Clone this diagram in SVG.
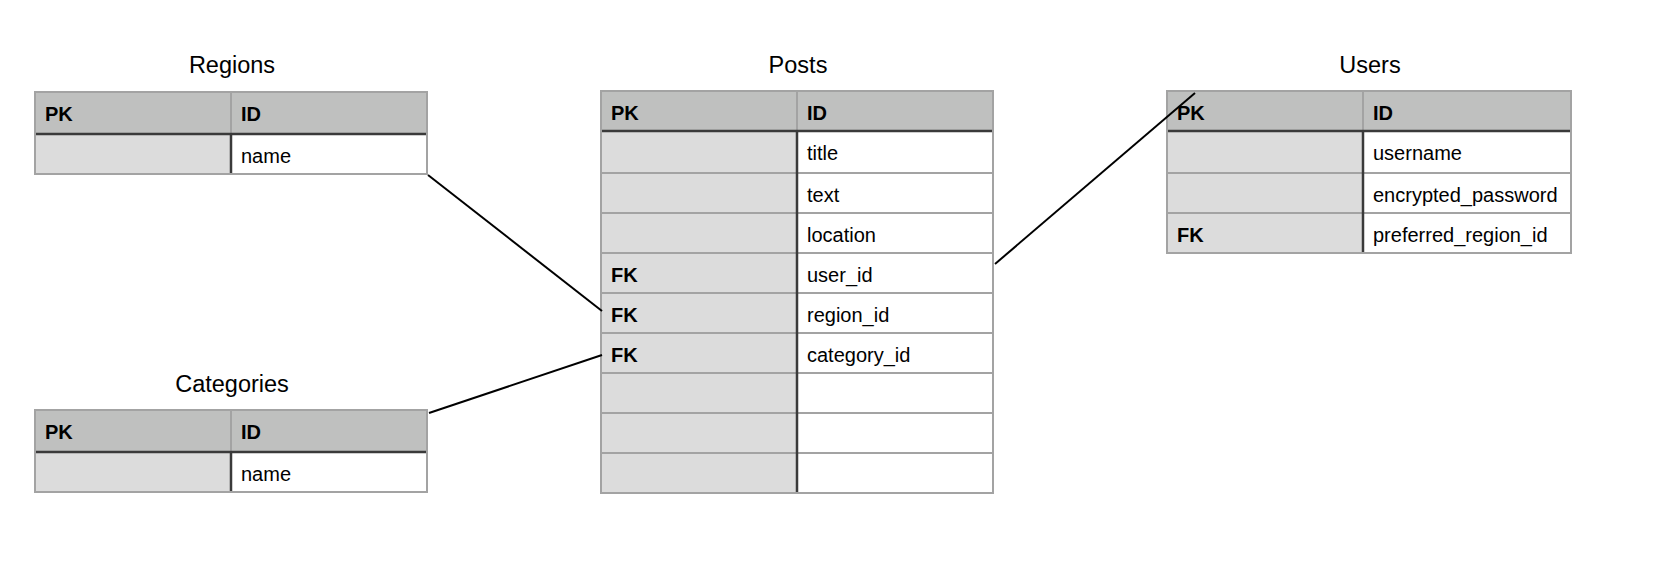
<svg xmlns="http://www.w3.org/2000/svg" width="1670" height="572" viewBox="0 0 1670 572">
<style>
.title{font-family:"Liberation Sans",Arial,sans-serif;font-size:23.5px;fill:#000;text-anchor:middle}
.t{font-family:"Liberation Sans",Arial,sans-serif;font-size:20px;fill:#000}
.b{font-weight:bold}
.hdr{fill:#bfc0bf}
.key{fill:#dcdcdc}
.val{fill:#fff}
.grid{stroke:#a3a3a3;stroke-width:2;fill:none}
.dark{stroke:#3a3a3a;stroke-width:2.5;fill:none}
.conn{stroke:#000;stroke-width:2;fill:none}
</style>
<rect width="1670" height="572" fill="#fff"/>

<g id="regions">
<text class="title" x="232" y="73">Regions</text>
<rect class="hdr" x="35" y="92" width="392" height="42"/>
<rect class="key" x="35" y="134" width="196" height="40"/>
<rect class="val" x="231" y="134" width="196" height="40"/>
<line class="grid" x1="231" y1="92" x2="231" y2="134"/>
<line class="dark" x1="231" y1="134" x2="231" y2="174"/>
<line class="dark" x1="35" y1="134" x2="427" y2="134"/>
<rect class="grid" x="35" y="92" width="392" height="82"/>
<text class="t b" x="45" y="121">PK</text>
<text class="t b" x="241" y="121">ID</text>
<text class="t" x="241" y="163">name</text>
</g>

<g id="categories">
<text class="title" x="232" y="392">Categories</text>
<rect class="hdr" x="35" y="410" width="392" height="42"/>
<rect class="key" x="35" y="452" width="196" height="40"/>
<rect class="val" x="231" y="452" width="196" height="40"/>
<line class="grid" x1="231" y1="410" x2="231" y2="452"/>
<line class="dark" x1="231" y1="452" x2="231" y2="492"/>
<line class="dark" x1="35" y1="452" x2="427" y2="452"/>
<rect class="grid" x="35" y="410" width="392" height="82"/>
<text class="t b" x="45" y="439">PK</text>
<text class="t b" x="241" y="439">ID</text>
<text class="t" x="241" y="481">name</text>
</g>

<g id="posts">
<text class="title" x="798" y="73">Posts</text>
<rect class="hdr" x="601" y="91" width="392" height="40"/>
<rect class="key" x="601" y="131" width="196" height="362"/>
<rect class="val" x="797" y="131" width="196" height="362"/>
<line class="grid" x1="797" y1="91" x2="797" y2="131"/>
<g class="grid">
<line x1="601" y1="173" x2="993" y2="173"/>
<line x1="601" y1="213" x2="993" y2="213"/>
<line x1="601" y1="253" x2="993" y2="253"/>
<line x1="601" y1="293" x2="993" y2="293"/>
<line x1="601" y1="333" x2="993" y2="333"/>
<line x1="601" y1="373" x2="993" y2="373"/>
<line x1="601" y1="413" x2="993" y2="413"/>
<line x1="601" y1="453" x2="993" y2="453"/>
</g>
<line class="dark" x1="797" y1="131" x2="797" y2="493"/>
<line class="dark" x1="601" y1="131" x2="993" y2="131"/>
<rect class="grid" x="601" y="91" width="392" height="402"/>
<text class="t b" x="611" y="120">PK</text>
<text class="t b" x="807" y="120">ID</text>
<text class="t" x="807" y="160">title</text>
<text class="t" x="807" y="202">text</text>
<text class="t" x="807" y="242">location</text>
<text class="t b" x="611" y="282">FK</text>
<text class="t" x="807" y="282">user_id</text>
<text class="t b" x="611" y="322">FK</text>
<text class="t" x="807" y="322">region_id</text>
<text class="t b" x="611" y="362">FK</text>
<text class="t" x="807" y="362">category_id</text>
</g>

<g id="users">
<text class="title" x="1370" y="73">Users</text>
<rect class="hdr" x="1167" y="91" width="404" height="40"/>
<rect class="key" x="1167" y="131" width="196" height="122"/>
<rect class="val" x="1363" y="131" width="208" height="122"/>
<line class="grid" x1="1363" y1="91" x2="1363" y2="131"/>
<g class="grid">
<line x1="1167" y1="173" x2="1571" y2="173"/>
<line x1="1167" y1="213" x2="1571" y2="213"/>
</g>
<line class="dark" x1="1363" y1="131" x2="1363" y2="253"/>
<line class="dark" x1="1167" y1="131" x2="1571" y2="131"/>
<rect class="grid" x="1167" y="91" width="404" height="162"/>
<text class="t b" x="1177" y="120">PK</text>
<text class="t b" x="1373" y="120">ID</text>
<text class="t" x="1373" y="160">username</text>
<text class="t" x="1373" y="202">encrypted_password</text>
<text class="t b" x="1177" y="242">FK</text>
<text class="t" x="1373" y="242">preferred_region_id</text>
</g>

<g id="connectors">
<line class="conn" x1="428" y1="175" x2="602" y2="311"/>
<line class="conn" x1="429" y1="413" x2="602" y2="355"/>
<line class="conn" x1="995" y1="264" x2="1195" y2="93"/>
</g>
</svg>
